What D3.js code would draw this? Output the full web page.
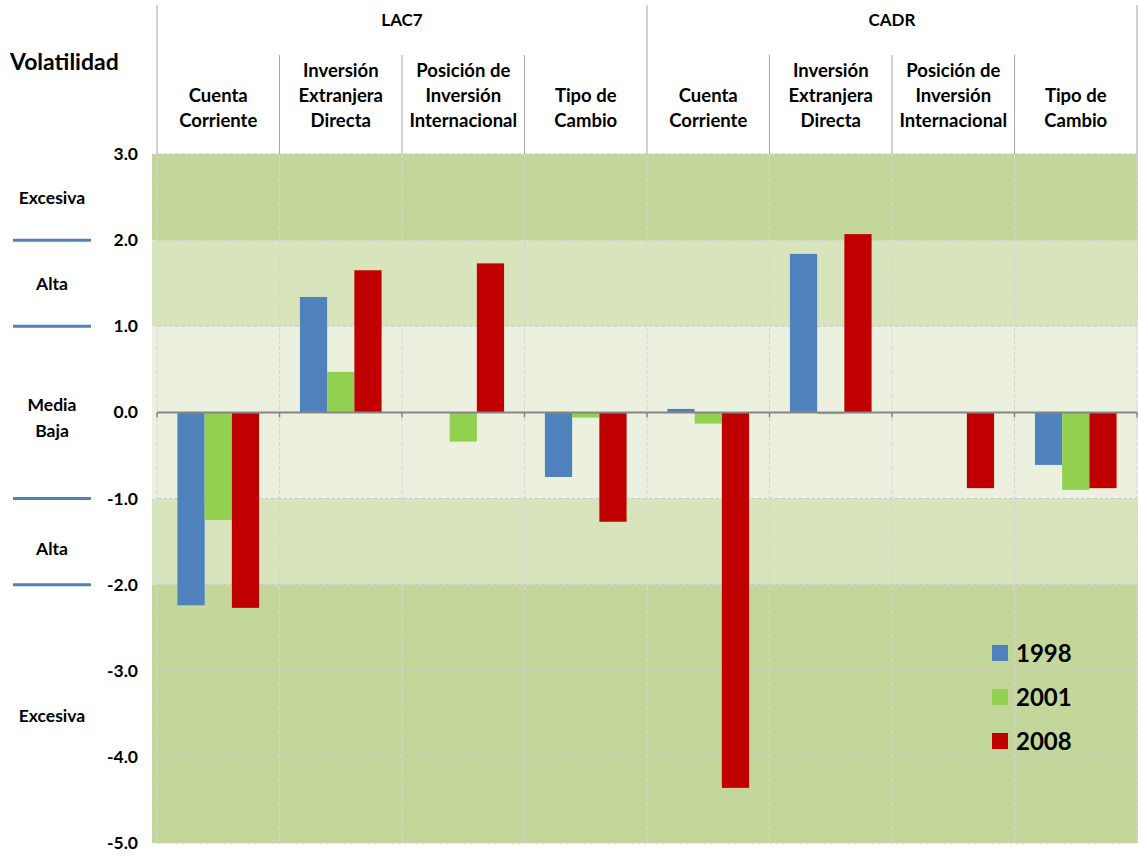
<!DOCTYPE html>
<meta charset="utf-8">
<script src="https://d3js.org/d3.v7.min.js"></script>
<style>
  body { margin: 0; background: #fff; }
  text { font-family: Lato, "Open Sans", sans-serif; font-weight: bold; fill: #000; }
</style>
<div id="chart"></div>
<script>

// groups and categories across the top
const groups = ["LAC7", "CADR"];
const categories = [
  ["Cuenta", "Corriente"],
  ["Inversión", "Extranjera", "Directa"],
  ["Posición de", "Inversión", "Internacional"],
  ["Tipo de", "Cambio"]
];
const years = ["1998", "2001", "2008"];

// one value per column: LAC7 x4, then CADR x4
const values1998 = [-2.24, 1.34, 0, -0.75, 0.04, 1.84, 0, -0.61];
const values2001 = [-1.25, 0.47, -0.34, -0.06, -0.13, -0.02, 0, -0.90];
const values2008 = [-2.27, 1.65, 1.73, -1.27, -4.36, 2.07, -0.88, -0.88];

const yTicks = [3, 2, 1, 0, -1, -2, -3, -4, -5];
const bandEdges = [3, 2, 1, -1, -2, -5];
const bandColors = ["#c4d79b", "#d8e4bc", "#ebf1de", "#d8e4bc", "#c4d79b"];
const zoneLabels = [["Excesiva"], ["Alta"], ["Media", "Baja"], ["Alta"], ["Excesiva"]];
const zoneLabelVals = [2.49, 1.49, -0.07, -1.59, -3.52];
const thresholds = [2, 1, -1, -2];

const colors = {"1998": "#4f81bd", "2001": "#92d050", "2008": "#c00000"};

const width = 1138, height = 856;
const svg = d3.select("#chart").append("svg")
  .attr("width", width).attr("height", height);

// columns
const cols = [];
groups.forEach(function(g) {
  categories.forEach(function(c, i) { cols.push(g + "|" + i); });
});
const series = years.map(function(y, k) {
  const vals = [values1998, values2001, values2008][k];
  return {year: y, values: vals};
});

const x0 = d3.scaleBand().domain(cols).range([157, 1137]);
const x1 = d3.scaleBand().domain(years).range([0, x0.bandwidth()])
  .paddingInner(0).paddingOuter(0.75);
const y = d3.scaleLinear().domain([-5, 3]).range([843, 154]);

const plotLeft = 152, plotRight = 1138;

// background bands
for (let i = 0; i < bandColors.length; i++) {
  svg.append("rect")
    .attr("x", plotLeft)
    .attr("y", y(bandEdges[i]))
    .attr("width", plotRight - plotLeft)
    .attr("height", y(bandEdges[i + 1]) - y(bandEdges[i]))
    .attr("fill", bandColors[i]);
}

// dashed grid
svg.append("g").selectAll("line.h")
  .data(yTicks.filter(function(d) { return d !== 0; }))
  .enter().append("line")
    .attr("x1", 157).attr("x2", 1137)
    .attr("y1", function(d) { return y(d); })
    .attr("y2", function(d) { return y(d); })
    .attr("stroke", "#c8c8c8").attr("stroke-width", 1)
    .attr("stroke-dasharray", "4,2");

const edges = cols.map(function(c) { return x0(c); }).concat([x0.range()[1]]);
svg.append("g").selectAll("line.v")
  .data(edges)
  .enter().append("line")
    .attr("x1", function(d) { return d; }).attr("x2", function(d) { return d; })
    .attr("y1", y(3)).attr("y2", y(-5))
    .attr("stroke", "#d6d6d6").attr("stroke-width", 1)
    .attr("stroke-dasharray", "4,2");

// header separators
svg.append("g").selectAll("line")
  .data(edges)
  .enter().append("line")
    .attr("x1", function(d) { return d; }).attr("x2", function(d) { return d; })
    .attr("y1", function(d, i) { return i % 4 === 0 ? 5 : 55; })
    .attr("y2", y(3))
    .attr("stroke", "#a6a6a6").attr("stroke-width", 1);

// group titles
svg.append("g").selectAll("text")
  .data(groups)
  .enter().append("text")
    .attr("x", function(g) { return (x0(g + "|0") + x0(g + "|3") + x0.bandwidth()) / 2; })
    .attr("y", 26)
    .attr("text-anchor", "middle")
    .style("font-size", "17px")
    .text(function(d) { return d; });

// category labels
cols.forEach(function(c) {
  const lines = categories[+c.split("|")[1]];
  const cx = x0(c) + x0.bandwidth() / 2;
  const startY = lines.length === 3 ? 77 : 102;
  const t = svg.append("text")
    .attr("text-anchor", "middle")
    .style("font-size", "18.5px");
  lines.forEach(function(l, i) {
    t.append("tspan").attr("x", cx).attr("y", startY + i * 25).text(l);
  });
});

// bars
svg.append("g").selectAll("g")
  .data(series)
  .enter().append("g")
    .attr("fill", function(d) { return colors[d.year]; })
  .selectAll("rect")
  .data(function(d) { return d.values.map(function(v, i) { return {year: d.year, v: v, col: cols[i]}; }); })
  .enter().append("rect")
    .attr("x", function(d) { return x0(d.col) + x1(d.year); })
    .attr("y", function(d) { return y(Math.max(0, d.v)); })
    .attr("width", x1.bandwidth())
    .attr("height", function(d) { return Math.abs(y(d.v) - y(0)); });

// zero axis
const zeroAxis = svg.append("g").attr("transform", "translate(0," + y(0) + ")");
zeroAxis.append("line")
  .attr("x1", 157).attr("x2", 1137)
  .attr("stroke", "#868686").attr("stroke-width", 2);
zeroAxis.selectAll("line.tick")
  .data(edges)
  .enter().append("line")
    .attr("x1", function(d) { return d; }).attr("x2", function(d) { return d; })
    .attr("y1", 0).attr("y2", 5)
    .attr("stroke", "#868686").attr("stroke-width", 1.5);

// y axis labels
const fmt = d3.format(".1f");
const yAxis = svg.append("g")
  .attr("transform", "translate(" + plotLeft + ",0)")
  .call(d3.axisLeft(y).tickValues(yTicks)
    .tickFormat(function(d) { return fmt(d).replace("\u2212", "-"); })
    .tickSize(0).tickPadding(14));
yAxis.select(".domain").remove();
yAxis.selectAll("text")
  .style("font-family", "Lato, sans-serif")
  .style("font-weight", "bold")
  .style("font-size", "17.5px");

// left zone labels
svg.append("text")
  .attr("x", 10).attr("y", 70)
  .attr("text-anchor", "start")
  .style("font-size", "23px")
  .text("Volatilidad");

zoneLabels.forEach(function(lines, i) {
  const cy = y(zoneLabelVals[i]);
  const t = svg.append("text")
    .attr("text-anchor", "middle")
    .style("font-size", "17.5px");
  lines.forEach(function(l, j) {
    t.append("tspan")
      .attr("x", 52)
      .attr("y", cy + 6 + (j - (lines.length - 1) / 2) * 26)
      .text(l);
  });
});

svg.append("g").selectAll("line")
  .data(thresholds)
  .enter().append("line")
    .attr("x1", 13).attr("x2", 91)
    .attr("y1", function(d) { return y(d); })
    .attr("y2", function(d) { return y(d); })
    .attr("stroke", "#4f81bd").attr("stroke-width", 3);

// legend
const legend = svg.append("g").attr("transform", "translate(992,645)");
years.forEach(function(yr, i) {
  const row = legend.append("g").attr("transform", "translate(0," + i * 44 + ")");
  row.append("rect").attr("width", 16).attr("height", 16).attr("fill", colors[yr]);
  row.append("text").attr("x", 24).attr("y", 17)
    .style("font-size", "24px").text(yr);
});

</script>
